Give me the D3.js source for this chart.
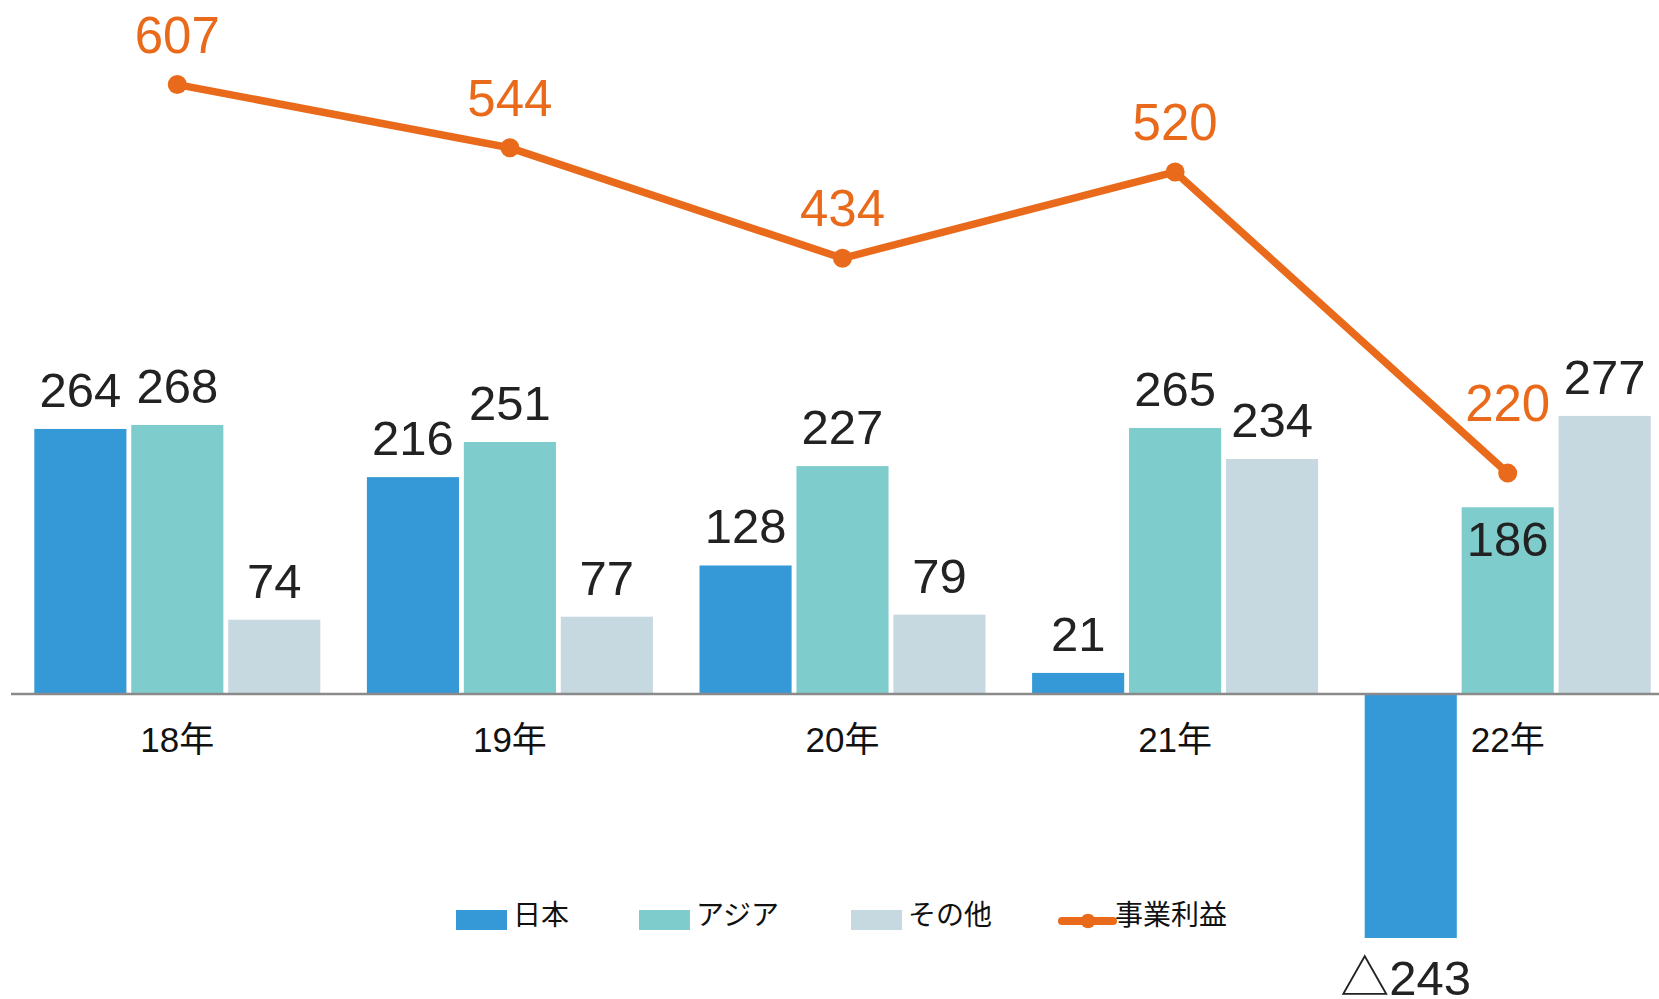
<!DOCTYPE html>
<html>
<head>
<meta charset="utf-8">
<script src="https://cdn.jsdelivr.net/npm/d3@7"></script>
<style>
  html, body { margin: 0; padding: 0; background: #fff; }
  svg { display: block; }
</style>
</head>
<body>
<svg id="chart" width="1659" height="999"></svg>
<script>
const categories = ["18年", "19年", "20年", "21年", "22年"];
const seriesNames = ["日本", "アジア", "その他"];
const japan = [264, 216, 128, 21, -243];
const asia = [268, 251, 227, 265, 186];
const other = [74, 77, 79, 234, 277];
const profitName = "事業利益";
const profit = [607, 544, 434, 520, 220];

const colors = ["#3499D6", "#7FCCCC", "#C6D8E0"];
const orange = "#E86A1A";
const textColor = "#222222";

const svg = d3.select("#chart");
const W = 1659, H = 999;

const x0 = d3.scaleBand().domain(categories).range([11, 11 + 5 * 332.6]).padding(0);
const x1 = d3.scaleBand().domain(seriesNames).range([23.3, 309.3]).paddingInner(0.05).paddingOuter(0);
const y = d3.scaleLinear().domain([0, 100]).range([694, 593.6]);

const seriesVals = [japan, asia, other];
const barData = [];
categories.forEach((c, i) => {
  seriesNames.forEach((s, j) => {
    barData.push({ cat: c, ser: s, j, v: seriesVals[j][i], i });
  });
});

// bars
svg.append("g").selectAll("rect").data(barData).join("rect")
  .attr("x", d => x0(d.cat) + x1(d.ser))
  .attr("width", x1.bandwidth())
  .attr("y", d => Math.min(y(d.v), y(0)))
  .attr("height", d => Math.abs(y(d.v) - y(0)))
  .attr("fill", d => colors[d.j]);

// axis baseline
svg.append("line")
  .attr("x1", 11).attr("x2", W)
  .attr("y1", y(0)).attr("y2", y(0))
  .attr("stroke", "#8a8a8a").attr("stroke-width", 2.5);

// category labels
const xAxis = d3.axisBottom(x0).tickSize(0).tickPadding(0);
const gx = svg.append("g").attr("transform", `translate(0,${y(0)})`).call(xAxis);
gx.select(".domain").remove();
gx.selectAll("text")
  .attr("y", 0).attr("dy", 0)
  .attr("transform", "translate(0,58)")
  .style("font-family", "'Liberation Sans', Arial, 'Noto Sans CJK JP', sans-serif")
  .style("font-size", "35px")
  .attr("fill", "#111");

// bar value labels
svg.append("g").selectAll("text").data(barData).join("text")
  .attr("x", d => x0(d.cat) + x1(d.ser) + x1.bandwidth() / 2 - (d.v < 0 ? 5 : 0))
  .attr("y", d => {
    if (d.v < 0) return y(d.v) + 57;
    if (d.j === 1 && d.i === 4) return y(d.v) + 49; // inside end
    return y(d.v) - 22;
  })
  .attr("text-anchor", "middle")
  .style("font-family", "'Liberation Sans', Arial, 'Noto Sans CJK JP', sans-serif")
  .style("font-size", "49px")
  .attr("fill", textColor)
  .text(d => d.v < 0 ? "△" + Math.abs(d.v) : d.v);

// profit line
const cx = c => x0(c) + x0.bandwidth() / 2;
const line = d3.line().x((d, i) => cx(categories[i])).y(d => y(d));
svg.append("path").datum(profit)
  .attr("d", line)
  .attr("fill", "none")
  .attr("stroke", orange)
  .attr("stroke-width", 7.5)
  .attr("stroke-linejoin", "round");

svg.append("g").selectAll("circle").data(profit).join("circle")
  .attr("cx", (d, i) => cx(categories[i]))
  .attr("cy", d => y(d))
  .attr("r", 9.5)
  .attr("fill", orange);

svg.append("g").selectAll("text").data(profit).join("text")
  .attr("x", (d, i) => cx(categories[i]))
  .attr("y", (d, i) => y(d) - (i === 4 ? 52 : 32))
  .attr("text-anchor", "middle")
  .style("font-family", "'Liberation Sans', Arial, sans-serif")
  .style("font-size", "51px")
  .attr("fill", orange)
  .text(d => d);

// legend
const legendFont = "'Noto Sans CJK JP', sans-serif";
const leg = svg.append("g");
const legendItems = [
  { name: seriesNames[0], type: "rect", color: colors[0], x: 456 },
  { name: seriesNames[1], type: "rect", color: colors[1], x: 639 },
  { name: seriesNames[2], type: "rect", color: colors[2], x: 851 },
  { name: profitName, type: "line", color: orange, x: 1058 }
];
legendItems.forEach(it => {
  const g = leg.append("g");
  if (it.type === "rect") {
    g.append("rect").attr("x", it.x).attr("y", 910).attr("width", 51).attr("height", 20).attr("fill", it.color);
  } else {
    g.append("line").attr("x1", it.x + 4).attr("x2", it.x + 55).attr("y1", 921).attr("y2", 921)
      .attr("stroke", it.color).attr("stroke-width", 8).attr("stroke-linecap", "round");
    g.append("circle").attr("cx", it.x + 30).attr("cy", 921).attr("r", 7.3).attr("fill", it.color);
  }
  g.append("text")
    .attr("x", it.x + 57)
    .attr("y", 925)
    .style("font-family", legendFont)
    .style("font-size", "28px")
    .attr("fill", "#111")
    .text(it.name);
});
</script>
</body>
</html>
